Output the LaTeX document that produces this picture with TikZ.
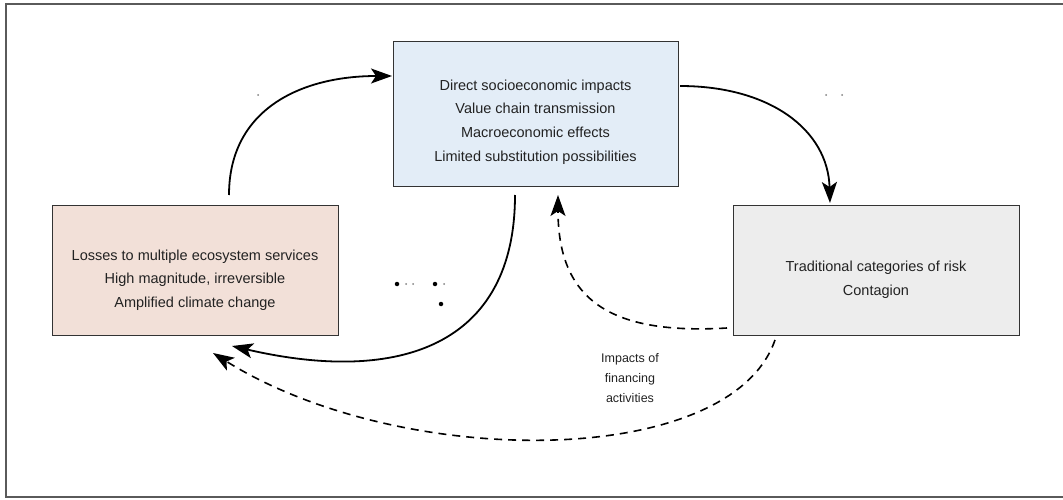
\documentclass[tikz,border=0pt]{standalone}
\usepackage{fontspec}
\setmainfont{Liberation Sans}
\usetikzlibrary{arrows.meta}
\definecolor{bluefill}{HTML}{E3EDF7}
\definecolor{pinkfill}{HTML}{F2E0D8}
\definecolor{greyfill}{HTML}{EDEDED}
\definecolor{boxline}{HTML}{333333}
\definecolor{framec}{HTML}{5A5A5A}
\definecolor{txt}{HTML}{222222}
\tikzset{
  box/.style={draw=boxline, line width=1.4pt, inner sep=0pt, anchor=north west},
  boxtext/.style={align=center, text=txt, font=\fontsize{14.5}{23.7}\selectfont, inner sep=0pt},
  lbl/.style={align=center, text=txt, font=\fontsize{12.5}{20}\selectfont, inner sep=0pt},
  solidarrow/.style={line width=1.8pt, -{Stealth[length=21pt,width=15pt,inset=5pt]}},
  dasharrow/.style={line width=1.6pt, dash pattern=on 8pt off 6pt, -{Stealth[length=21pt,width=15pt,inset=5pt]}},
  bigdot/.style={circle, fill=black, inner sep=0pt, minimum size=4.5pt},
  smalldot/.style={circle, fill=gray, inner sep=0pt, minimum size=2pt}
}
\begin{document}
\begin{tikzpicture}[x=1pt,y=-1pt]
\useasboundingbox (0,0) rectangle (1063,500);
% outer frame (open at right edge)
\draw[framec, line width=2pt] (1070,4) -- (6,4) -- (6,497) -- (1070,497);

% boxes
\node[box, fill=bluefill, minimum width=285pt, minimum height=145pt] (top) at (393,41) {};
\node[box, fill=pinkfill, minimum width=286pt, minimum height=130pt] (left) at (52,205) {};
\node[box, fill=greyfill, minimum width=286pt, minimum height=130pt] (right) at (733,205) {};

\node[boxtext] (toptext) at (535.5,122) {Direct socioeconomic impacts\\Value chain transmission\\Macroeconomic effects\\Limited substitution possibilities};
\node[boxtext] (lefttext) at (195,280) {Losses to multiple ecosystem services\\High magnitude, irreversible\\Amplified climate change};
\node[boxtext] (righttext) at (876,280) {Traditional categories of risk\\Contagion};

\coordinate (a1s) at (229,195);
\coordinate (a1e) at (392,76);
\coordinate (a2s) at (680,86);
\coordinate (a2e) at (830,203);
\coordinate (a3s) at (515,195);
\coordinate (a3e) at (232,346);
\coordinate (a4s) at (727,328);
\coordinate (a4e) at (558,195);
\coordinate (a5s) at (775,340);
\coordinate (a5e) at (213,353);

\draw[solidarrow] (a1s) .. controls (229,110) and (300,76) .. (a1e);
\draw[solidarrow] (a2s) .. controls (770,86) and (828,130) .. (a2e);
\draw[solidarrow] (a3s) .. controls (515,345) and (400,385) .. (a3e);
\draw[dasharrow] (a4s) .. controls (610,335) and (558,300) .. (a4e);
\draw[dasharrow] (a5s) .. controls (730,470) and (400,470) .. (a5e);

\node[lbl] (fin) at (630,378) {Impacts of\\financing\\activities};

% small marks
\node[smalldot] (d1) at (258,95) {};
\node[smalldot] (d2) at (826,95) {};
\node[smalldot] (d3) at (842,95) {};
\node[bigdot] (d4) at (397,284) {};
\node[smalldot] (d5) at (406,284) {};
\node[smalldot] (d6) at (413,284) {};
\node[bigdot] (d7) at (435,284) {};
\node[smalldot] (d8) at (444,284) {};
\node[bigdot] (d9) at (441,304) {};
\end{tikzpicture}
\end{document}
